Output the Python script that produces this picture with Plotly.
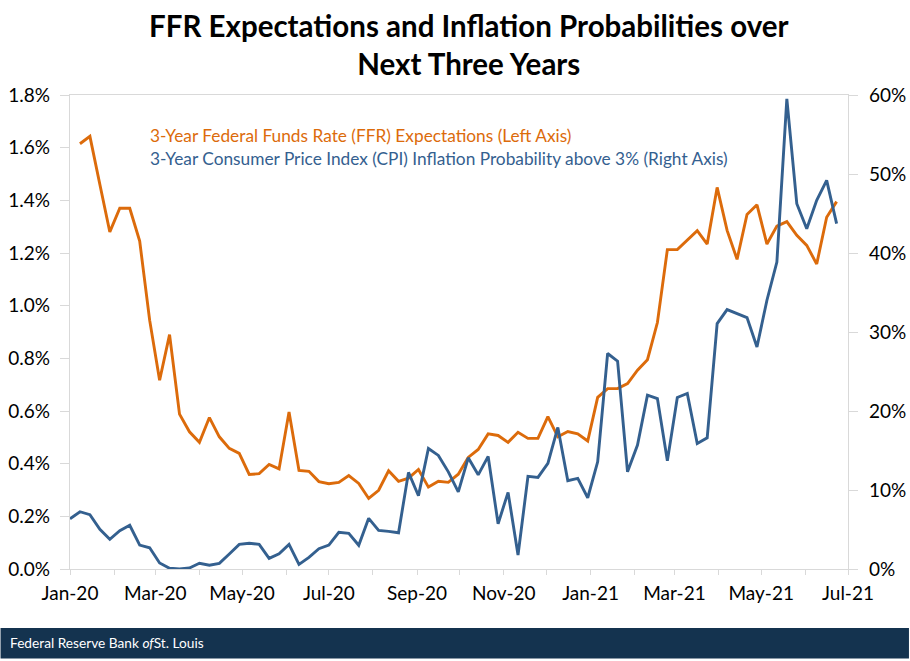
import plotly.graph_objects as go
import pandas as pd

dates = pd.date_range("2020-01-01", periods=78, freq="7D").strftime("%Y-%m-%d").tolist()

ffr = [None, 1.615, 1.643, 1.46, 1.28, 1.37, 1.37, 1.245, 0.945, 0.717, 0.89, 0.588, 0.521, 0.481, 0.575,
       0.502, 0.458, 0.439, 0.359, 0.362, 0.397, 0.38, 0.596, 0.374, 0.371, 0.332, 0.324, 0.329, 0.355,
       0.325, 0.268, 0.299, 0.373, 0.333, 0.345, 0.378, 0.311, 0.333, 0.329, 0.36, 0.424, 0.454, 0.513,
       0.507, 0.481, 0.519, 0.496, 0.496, 0.579, 0.502, 0.522, 0.513, 0.486, 0.652, 0.685, 0.685, 0.704,
       0.755, 0.795, 0.936, 1.213, 1.213, 1.249, 1.285, 1.234, 1.449, 1.286, 1.176, 1.346, 1.383, 1.234,
       1.302, 1.319, 1.267, 1.229, 1.158, 1.336, 1.395]

cpi = [6.36, 7.25, 6.87, 5.02, 3.76, 4.84, 5.53, 3.03, 2.69, 0.76, 0.09, 0.0, 0.13, 0.72, 0.47, 0.72, 1.9,
       3.12, 3.25, 3.12, 1.35, 1.93, 3.12, 0.59, 1.48, 2.57, 3.03, 4.64, 4.51, 3.0, 6.41, 4.89, 4.77, 4.59,
       12.23, 9.27, 15.26, 14.38, 12.3, 9.77, 14.07, 11.92, 14.25, 5.73, 9.7, 1.77, 11.72, 11.6, 13.37,
       17.92, 11.17, 11.47, 9.02, 13.57, 27.28, 26.3, 12.3, 15.68, 22.0, 21.58, 13.69, 21.71, 22.22, 15.89,
       16.6, 31.07, 32.84, 32.33, 31.83, 28.11, 34.02, 38.86, 59.52, 46.24, 43.08, 46.66, 49.19, 43.71]

FFR_NAME = "3-Year Federal Funds Rate (FFR) Expectations (Left Axis)"
CPI_NAME = "3-Year Consumer Price Index (CPI) Inflation Probability above 3% (Right Axis)"
TITLE = "FFR Expectations and Inflation Probabilities over<br>Next Three Years"
FOOTER = "Federal Reserve Bank <i>of</i>St. Louis"

ORANGE = "#DC6B0B"
BLUE = "#34608F"
NAVY = "#14334F"
AXIS = "#D9D9D9"
FONT = "Lato"

W, H = 910, 661
L, R, T, B = 69.5, 848.0, 94.5, 569.0

def px(x):
    return (x - L) / (R - L)

def py(y):
    return (B - y) / (B - T)

fig = go.Figure()
fig.add_trace(go.Scatter(x=dates, y=ffr, name=FFR_NAME, mode="lines", yaxis="y",
                         line=dict(color=ORANGE, width=2.9), cliponaxis=False))
fig.add_trace(go.Scatter(x=dates, y=cpi, name=CPI_NAME, mode="lines", yaxis="y2",
                         line=dict(color=BLUE, width=2.9), cliponaxis=False))

tickfont = dict(family=FONT, size=19, color="#000000")
fig.update_layout(
    width=W, height=H, autosize=False, showlegend=False,
    paper_bgcolor="white", plot_bgcolor="white",
    margin=dict(l=L, r=W - R, t=T, b=H - B, pad=0, autoexpand=False),
    font=dict(family=FONT),
    xaxis=dict(type="date", range=["2020-01-01", "2021-07-01"], tick0="2020-01-01", dtick="M2",
               tickformat="%b-%y", ticks="outside", ticklen=5, tickcolor=AXIS, tickwidth=1.3,
               showline=True, linecolor=AXIS, linewidth=1.3, mirror=True, showgrid=False,
               zeroline=False, tickfont=tickfont, hoverformat="%Y-%m-%d", ticklabelstandoff=2,
               minor=dict(dtick="M1", tick0="2020-01-01", ticks="outside", ticklen=5,
                          tickcolor=AXIS, tickwidth=1.3, showgrid=False)),
    yaxis=dict(range=[0, 1.8], dtick=0.2, tickformat=".1f", ticksuffix="%", ticks="outside",
               ticklen=9, tickcolor=AXIS, tickwidth=1.3, showline=True, linecolor=AXIS,
               linewidth=1.3, showgrid=False, zeroline=False, tickfont=tickfont, ticklabelstandoff=6),
    yaxis2=dict(range=[0, 60], dtick=10, tickformat=".0f", ticksuffix="%", overlaying="y",
                side="right", ticks="outside", ticklen=9, tickcolor=AXIS, tickwidth=1.3,
                showline=True, linecolor=AXIS, linewidth=1.3, showgrid=False, zeroline=False,
                tickfont=tickfont, ticklabelstandoff=7),
    shapes=[dict(type="rect", xref="paper", yref="paper", layer="above",
                 x0=px(0), x1=px(909), y0=py(658.5), y1=py(628),
                 fillcolor=NAVY, line=dict(width=0))],
    annotations=[
        dict(text=TITLE, xref="paper", yref="paper", x=px(469), y=py(44), xanchor="center", yanchor="middle",
             showarrow=False, align="center", font=dict(family=FONT, size=29.5, color="#000000", weight="bold")),
        dict(text=FFR_NAME, xref="paper", yref="paper", x=px(147.5), y=py(135.5), xanchor="left", yanchor="middle",
             showarrow=False, font=dict(family=FONT, size=17.3, color=ORANGE)),
        dict(text=CPI_NAME, xref="paper", yref="paper", x=px(147.5), y=py(158.5), xanchor="left", yanchor="middle",
             showarrow=False, font=dict(family=FONT, size=17.3, color=BLUE)),
        dict(text=FOOTER, xref="paper", yref="paper", x=px(7), y=py(642.5), xanchor="left", yanchor="middle",
             showarrow=False, font=dict(family=FONT, size=13.7, color="#FFFFFF")),
    ],
)

fig.write_html("out.html", config={"displayModeBar": False},
               post_script="document.body.style.margin='0';document.body.style.overflow='hidden';")
